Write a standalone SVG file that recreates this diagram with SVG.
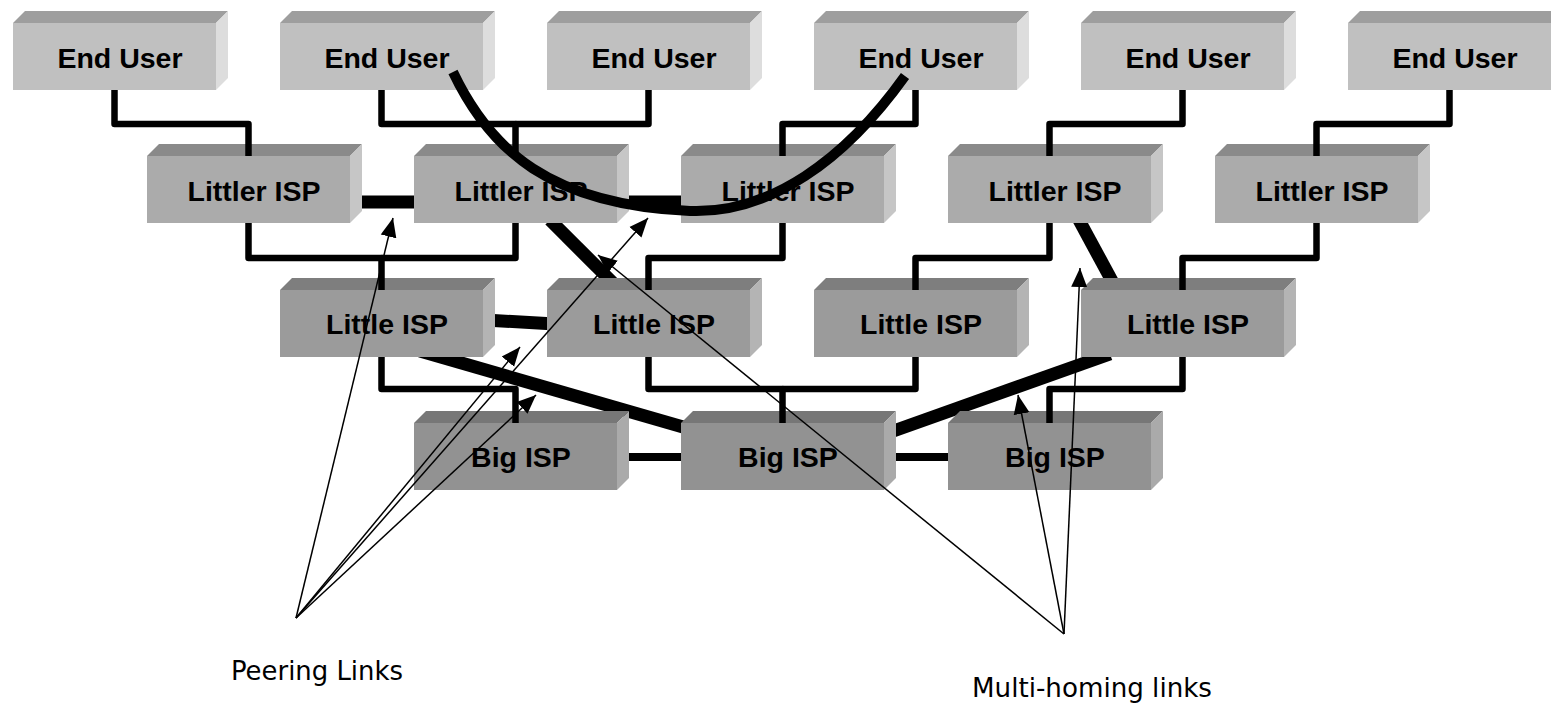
<svg xmlns="http://www.w3.org/2000/svg" width="1551" height="706" viewBox="0 0 1551 706">
  <style>
    .eu .front { fill: #C0C0C0; } .eu .top { fill: #9E9E9E; } .eu .side { fill: #DDDDDD; }
    .ltr .front { fill: #ABABAB; } .ltr .top { fill: #8A8A8A; } .ltr .side { fill: #C6C6C6; }
    .lt .front { fill: #9B9B9B; } .lt .top { fill: #7E7E7E; } .lt .side { fill: #B4B4B4; }
    .big .front { fill: #929292; } .big .top { fill: #777777; } .big .side { fill: #AAAAAA; }
    .label { font-family: "Liberation Sans", Arial, sans-serif; font-weight: bold; font-size: 28.5px; fill: #000; text-anchor: middle; }
    .tree { fill: none; stroke: #000; stroke-width: 6.5; stroke-linejoin: round; }
    .peer { stroke: #000; stroke-width: 13; }
    .peer-thin { stroke: #000; stroke-width: 8; }
    .multi { stroke: #000; stroke-width: 13; }
    .path-curve { fill: none; stroke: #000; stroke-width: 10; }
    .callout { stroke: #000; stroke-width: 1.5; fill: none; marker-end: url(#arrow); }
    .note { font-family: "DejaVu Sans Condensed", "DejaVu Sans", sans-serif; font-size: 27px; fill: #000; }
  </style>
  <defs>
    <marker id="arrow" markerUnits="userSpaceOnUse" markerWidth="20" markerHeight="18" refX="19" refY="9" orient="auto">
      <path d="M0,1 L19,9 L0,17 Z" fill="#000"/>
    </marker>
  </defs>
  <rect width="1551" height="706" fill="#fff"/>

  <!-- heavy peering and multi-homing links, drawn beneath the boxes -->
  <g id="links-under">
    <line class="peer" x1="350" y1="202" x2="420" y2="202"/>
    <line class="peer" x1="620" y1="202" x2="690" y2="202"/>
    <line class="peer" x1="485" y1="320" x2="555" y2="324"/>
    <line class="peer-thin" x1="620" y1="457" x2="690" y2="457"/>
    <line class="peer-thin" x1="890" y1="457" x2="955" y2="457"/>
    <line class="multi" x1="550" y1="220" x2="622" y2="292"/>
    <line class="multi" x1="1079" y1="220" x2="1118" y2="292"/>
    <line class="multi" x1="420" y1="351" x2="690" y2="429" stroke-width="14"/>
    <line class="multi" x1="885" y1="434" x2="1110" y2="354" stroke-width="14"/>
  </g>

  <!-- End users -->
  <g id="end-user-1" class="eu" transform="translate(13,23)">
    <polygon class="top" points="0,0 12,-12 215,-12 203,0"/><polygon class="side" points="203,0 215,-12 215,55 203,67"/><rect class="front" width="203" height="67"/>
    <text class="label" x="107" y="45">End User</text></g>
  <g id="end-user-2" class="eu" transform="translate(280,23)">
    <polygon class="top" points="0,0 12,-12 215,-12 203,0"/><polygon class="side" points="203,0 215,-12 215,55 203,67"/><rect class="front" width="203" height="67"/>
    <text class="label" x="107" y="45">End User</text></g>
  <g id="end-user-3" class="eu" transform="translate(547,23)">
    <polygon class="top" points="0,0 12,-12 215,-12 203,0"/><polygon class="side" points="203,0 215,-12 215,55 203,67"/><rect class="front" width="203" height="67"/>
    <text class="label" x="107" y="45">End User</text></g>
  <g id="end-user-4" class="eu" transform="translate(814,23)">
    <polygon class="top" points="0,0 12,-12 215,-12 203,0"/><polygon class="side" points="203,0 215,-12 215,55 203,67"/><rect class="front" width="203" height="67"/>
    <text class="label" x="107" y="45">End User</text></g>
  <g id="end-user-5" class="eu" transform="translate(1081,23)">
    <polygon class="top" points="0,0 12,-12 215,-12 203,0"/><polygon class="side" points="203,0 215,-12 215,55 203,67"/><rect class="front" width="203" height="67"/>
    <text class="label" x="107" y="45">End User</text></g>
  <g id="end-user-6" class="eu" transform="translate(1348,23)">
    <polygon class="top" points="0,0 12,-12 215,-12 203,0"/><polygon class="side" points="203,0 215,-12 215,55 203,67"/><rect class="front" width="203" height="67"/>
    <text class="label" x="107" y="45">End User</text></g>

  <!-- Littler ISPs -->
  <g id="littler-isp-1" class="ltr" transform="translate(147,156)">
    <polygon class="top" points="0,0 12,-12 215,-12 203,0"/><polygon class="side" points="203,0 215,-12 215,55 203,67"/><rect class="front" width="203" height="67"/>
    <text class="label" x="107" y="45">Littler ISP</text></g>
  <g id="littler-isp-2" class="ltr" transform="translate(414,156)">
    <polygon class="top" points="0,0 12,-12 215,-12 203,0"/><polygon class="side" points="203,0 215,-12 215,55 203,67"/><rect class="front" width="203" height="67"/>
    <text class="label" x="107" y="45">Littler ISP</text></g>
  <g id="littler-isp-3" class="ltr" transform="translate(681,156)">
    <polygon class="top" points="0,0 12,-12 215,-12 203,0"/><polygon class="side" points="203,0 215,-12 215,55 203,67"/><rect class="front" width="203" height="67"/>
    <text class="label" x="107" y="45">Littler ISP</text></g>
  <g id="littler-isp-4" class="ltr" transform="translate(948,156)">
    <polygon class="top" points="0,0 12,-12 215,-12 203,0"/><polygon class="side" points="203,0 215,-12 215,55 203,67"/><rect class="front" width="203" height="67"/>
    <text class="label" x="107" y="45">Littler ISP</text></g>
  <g id="littler-isp-5" class="ltr" transform="translate(1215,156)">
    <polygon class="top" points="0,0 12,-12 215,-12 203,0"/><polygon class="side" points="203,0 215,-12 215,55 203,67"/><rect class="front" width="203" height="67"/>
    <text class="label" x="107" y="45">Littler ISP</text></g>

  <!-- Little ISPs -->
  <g id="little-isp-1" class="lt" transform="translate(280,290)">
    <polygon class="top" points="0,0 12,-12 215,-12 203,0"/><polygon class="side" points="203,0 215,-12 215,55 203,67"/><rect class="front" width="203" height="67"/>
    <text class="label" x="107" y="44">Little ISP</text></g>
  <g id="little-isp-2" class="lt" transform="translate(547,290)">
    <polygon class="top" points="0,0 12,-12 215,-12 203,0"/><polygon class="side" points="203,0 215,-12 215,55 203,67"/><rect class="front" width="203" height="67"/>
    <text class="label" x="107" y="44">Little ISP</text></g>
  <g id="little-isp-3" class="lt" transform="translate(814,290)">
    <polygon class="top" points="0,0 12,-12 215,-12 203,0"/><polygon class="side" points="203,0 215,-12 215,55 203,67"/><rect class="front" width="203" height="67"/>
    <text class="label" x="107" y="44">Little ISP</text></g>
  <g id="little-isp-4" class="lt" transform="translate(1081,290)">
    <polygon class="top" points="0,0 12,-12 215,-12 203,0"/><polygon class="side" points="203,0 215,-12 215,55 203,67"/><rect class="front" width="203" height="67"/>
    <text class="label" x="107" y="44">Little ISP</text></g>

  <!-- Big ISPs -->
  <g id="big-isp-1" class="big" transform="translate(414,423)">
    <polygon class="top" points="0,0 12,-12 215,-12 203,0"/><polygon class="side" points="203,0 215,-12 215,55 203,67"/><rect class="front" width="203" height="67"/>
    <text class="label" x="107" y="44">Big ISP</text></g>
  <g id="big-isp-2" class="big" transform="translate(681,423)">
    <polygon class="top" points="0,0 12,-12 215,-12 203,0"/><polygon class="side" points="203,0 215,-12 215,55 203,67"/><rect class="front" width="203" height="67"/>
    <text class="label" x="107" y="44">Big ISP</text></g>
  <g id="big-isp-3" class="big" transform="translate(948,423)">
    <polygon class="top" points="0,0 12,-12 215,-12 203,0"/><polygon class="side" points="203,0 215,-12 215,55 203,67"/><rect class="front" width="203" height="67"/>
    <text class="label" x="107" y="44">Big ISP</text></g>

  <g id="connectors">
    <!-- customer-provider tree -->
    <path class="tree" d="M114.5,90 V124 H248.5 V156"/>
    <path class="tree" d="M381.5,90 V124 H515.5 V156"/>
    <path class="tree" d="M648.5,90 V124 H515.5"/>
    <path class="tree" d="M915.5,90 V124 H782.5 V156"/>
    <path class="tree" d="M1182.5,90 V124 H1049.5 V156"/>
    <path class="tree" d="M1449.5,90 V124 H1316.5 V156"/>

    <path class="tree" d="M248.5,223 V258 H381.5 V290"/>
    <path class="tree" d="M515.5,223 V258 H381.5"/>
    <path class="tree" d="M782.5,223 V258 H648.5 V290"/>
    <path class="tree" d="M1049.5,223 V258 H915.5 V290"/>
    <path class="tree" d="M1316.5,223 V258 H1182.5 V290"/>

    <path class="tree" d="M381.5,357 V389 H515.5 V423"/>
    <path class="tree" d="M648.5,357 V389 H782.5 V423"/>
    <path class="tree" d="M915.5,357 V389 H782.5"/>
    <path class="tree" d="M1182.5,357 V389 H1049.5 V423"/>

    <!-- end-to-end path between two users -->
    <path class="path-curve" d="M453,72 C490,150 550,205 690,211 C770,214 845,160 905,76"/>

    <!-- callouts -->
    <line class="callout" x1="296" y1="618" x2="393" y2="218"/>
    <line class="callout" x1="296" y1="618" x2="648" y2="218"/>
    <line class="callout" x1="296" y1="618" x2="520" y2="347"/>
    <line class="callout" x1="296" y1="618" x2="536" y2="395"/>

    <line class="callout" x1="1064" y1="634" x2="598" y2="255"/>
    <line class="callout" x1="1064" y1="634" x2="1080" y2="268"/>
    <line class="callout" x1="1064" y1="634" x2="1018" y2="395"/>
  </g>

  <text class="note" x="231" y="680" textLength="172" lengthAdjust="spacingAndGlyphs">Peering Links</text>
  <text class="note" x="972" y="697" textLength="240" lengthAdjust="spacingAndGlyphs">Multi-homing links</text>
</svg>
